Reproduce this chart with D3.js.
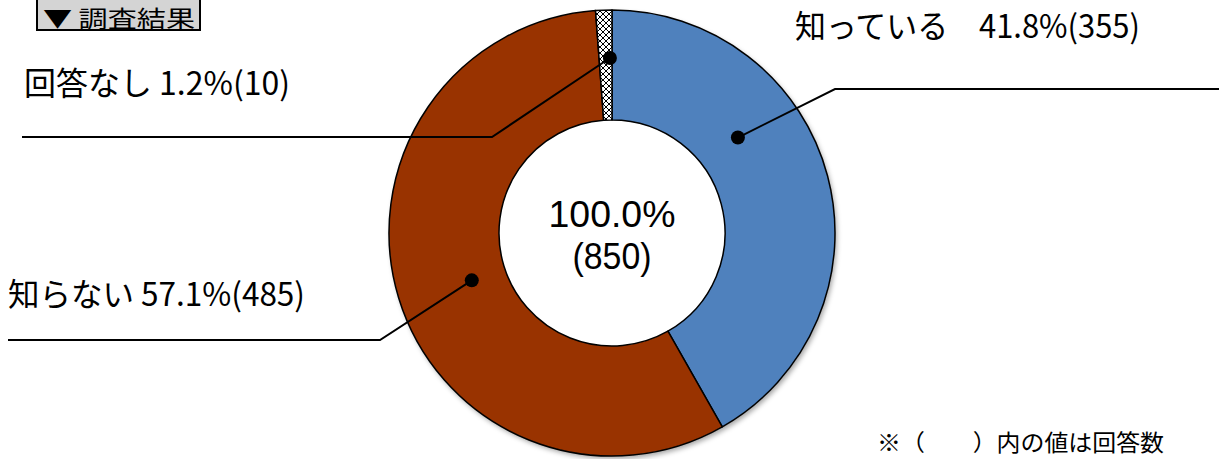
<!DOCTYPE html>
<html><head><meta charset="utf-8">
<script src="https://cdn.jsdelivr.net/npm/d3@7"></script>
<style>html,body{margin:0;padding:0;background:#fff;overflow:hidden}</style>
</head><body>
<svg id="chart" width="1219" height="459"></svg>
<script>
// ---- data ----
const categories = ["知っている", "知らない", "回答なし"];
const counts = [355, 485, 10];
const percents = ["41.8", "57.1", "1.2"];
const totalPercent = "100.0";
const totalCount = 850;
const title = "▼ 調査結果";
const footnote = "※（　　）内の値は回答数";

// ---- layout ----
const W = 1219, H = 459;
const cx = 612, cy = 233, rOuter = 223, rInner = 113;
const colors = ["#4f81bd", "#993300", "url(#hatch)"];
const seps = ["　", " ", " "];
const labelLayout = [
  {dotAngleOffset: -0.39, dotR: 158, elbow: [835, 89], end: [1219, 89], tx: 795, ty: 38, tw: 345},
  {dotAngleOffset: -0.03, dotR: 148, elbow: [380, 340], end: [8, 340], tx: 8, ty: 306, tw: 297},
  {dotAngleOffset: 0.025, dotR: 175, elbow: [492, 137], end: [22, 137], tx: 24, ty: 95, tw: 266}
];

const svg = d3.select("#chart");
const defs = svg.append("defs");
const pat = defs.append("pattern").attr("id", "hatch").attr("patternUnits", "userSpaceOnUse")
  .attr("width", 6).attr("height", 6);
pat.append("rect").attr("width", 6).attr("height", 6).attr("fill", "#fff");
pat.append("path").attr("d", "M0,0 L6,6 M6,0 L0,6").attr("stroke", "#000").attr("stroke-width", 1);
const f = defs.append("filter").attr("id", "shadow").attr("x", "-10%").attr("y", "-10%").attr("width", "120%").attr("height", "120%");
f.append("feDropShadow").attr("dx", 2).attr("dy", 3).attr("stdDeviation", 2.5).attr("flood-color", "#000").attr("flood-opacity", 0.35);

const fontJP = "'Noto Sans CJK JP', 'Noto Sans', sans-serif";
const fontNum = "'Liberation Sans', Arial, sans-serif";

// title box
const tg = svg.append("g");
tg.append("rect").attr("x", 37).attr("y", -4).attr("width", 163).attr("height", 34)
  .attr("fill", "#d4d4d4").attr("stroke", "#000").attr("stroke-width", 2);
tg.append("text").attr("x", 43).attr("y", 27).attr("font-family", fontJP).attr("font-size", 23)
  .attr("fill", "#000").attr("textLength", 152).attr("lengthAdjust", "spacingAndGlyphs").text(title);

// donut
const pie = d3.pie().sort(null).value(d => d).startAngle(0).endAngle(2 * Math.PI);
const arcs = pie(counts);
const arc = d3.arc().innerRadius(rInner).outerRadius(rOuter);
const g = svg.append("g").attr("transform", `translate(${cx},${cy})`);
g.append("circle").attr("r", rOuter).attr("fill", "#fff").attr("filter", "url(#shadow)");
g.selectAll("path.slice").data(arcs).enter().append("path").attr("class", "slice")
  .attr("d", arc).attr("fill", (d, i) => colors[i]).attr("stroke", "#000").attr("stroke-width", 1.5)
  .attr("stroke-linejoin", "round");

// center text
g.append("text").attr("x", 0).attr("y", -6).attr("text-anchor", "middle").attr("font-family", fontNum)
  .attr("font-size", 36).attr("textLength", 127).attr("lengthAdjust", "spacingAndGlyphs")
  .text(totalPercent + "%");
g.append("text").attr("x", 0).attr("y", 36).attr("text-anchor", "middle").attr("font-family", fontNum)
  .attr("font-size", 36).attr("textLength", 79).attr("lengthAdjust", "spacingAndGlyphs")
  .text("(" + totalCount + ")");

// leader lines, dots, labels
arcs.forEach((a, i) => {
  const L = labelLayout[i];
  const mid = (a.startAngle + a.endAngle) / 2 + L.dotAngleOffset;
  const p = d3.pointRadial(mid, L.dotR);
  const dot = [cx + p[0], cy + p[1]];
  svg.append("path").attr("d", d3.line()([dot, L.elbow, L.end]))
    .attr("fill", "none").attr("stroke", "#000").attr("stroke-width", 2);
  svg.append("circle").attr("cx", dot[0]).attr("cy", dot[1]).attr("r", 7).attr("fill", "#000");
  svg.append("text").attr("x", L.tx).attr("y", L.ty).attr("font-family", fontJP).attr("font-size", 32)
    .attr("fill", "#000").attr("textLength", L.tw).attr("lengthAdjust", "spacingAndGlyphs")
    .text(`${categories[i]}${seps[i]}${percents[i]}%(${counts[i]})`);
});

// footnote
svg.append("text").attr("x", 877).attr("y", 451).attr("font-family", fontJP).attr("font-size", 23)
  .attr("textLength", 287).attr("lengthAdjust", "spacingAndGlyphs").text(footnote);
</script>
</body></html>
